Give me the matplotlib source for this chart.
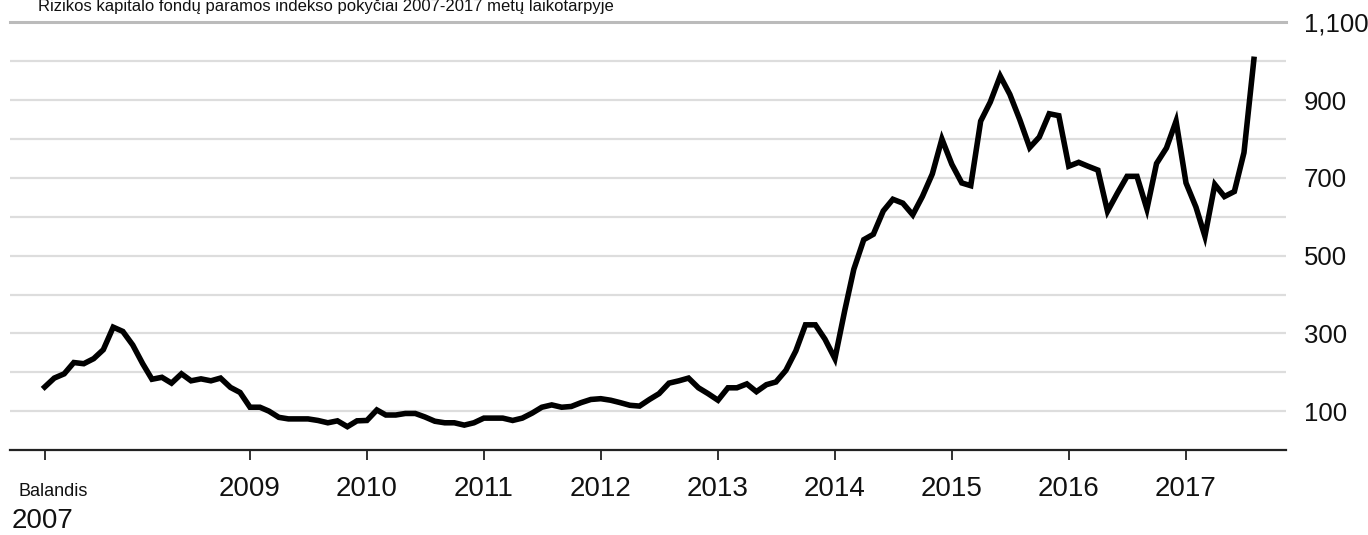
import numpy as np
import pandas as pd
import matplotlib
matplotlib.use("Agg")
import matplotlib.pyplot as plt
import matplotlib.dates as mdates

plt.rcParams['font.family'] = ['Liberation Sans', 'DejaVu Sans']

title = "Rizikos kapitalo fondų paramos indekso pokyčiai 2007-2017 metų laikotarpyje"

# monthly index values, April 2007 - August 2017
index_values = [
    162, 185, 196, 225, 222, 235, 258, 316, 305, 270, 222, 182,
    187, 172, 196, 178, 183, 178, 185, 161, 148, 110, 110, 100,
    84, 80, 80, 80, 76, 70, 75, 60, 75, 76, 103, 90,
    90, 94, 94, 85, 74, 70, 70, 64, 70, 82, 82, 82,
    76, 82, 95, 110, 116, 110, 112, 122, 130, 132, 128, 122,
    115, 113, 130, 145, 172, 178, 185, 160, 145, 128, 160, 160,
    170, 150, 168, 175, 205, 255, 322, 322, 285, 235, 360, 465,
    541, 555, 615, 645, 635, 605, 652, 710, 800, 735, 687, 680,
    846, 895, 962, 915, 850, 778, 805, 865, 860, 730, 740, 730,
    720, 614, 661, 704, 704, 620, 737, 777, 846, 687, 625, 550,
    683, 652, 665, 765, 1005,
]
months = pd.date_range("2007-04-01", periods=len(index_values), freq="MS")

year_ticks = [str(y) for y in range(2009, 2018)]
y_labels = [100, 300, 500, 700, 900, 1100]

W, H = 1368, 535
fig = plt.figure(figsize=(W / 100, H / 100), dpi=100)
ax = fig.add_axes([10 / W, (H - 450) / H, 1276 / W, (450 - 22.4) / H])

ax.plot(months, index_values, color="black", lw=4, solid_joinstyle="miter",
        zorder=3)

# x axis: first tick at the start month, then every January
tick_dates = [months[0]] + [pd.Timestamp(y + "-01-01") for y in year_ticks]
ax.set_xticks(tick_dates)
ax.set_xticklabels([""] + year_ticks)
jan09 = mdates.date2num(pd.Timestamp("2009-01-01"))
px_per_day = 117 / 365.25
ax.set_xlim(jan09 - 240 / px_per_day, jan09 + 1036 / px_per_day)
ax.tick_params(axis="x", length=7.5, width=1.3, color="#222222",
               labelsize=20, pad=11, labelcolor="#111111")

# y axis on the right
ax.set_ylim(0, 1100)
ax.yaxis.tick_right()
ax.set_yticks(y_labels)
ax.set_yticklabels([f"{v:,}" for v in y_labels])
ax.set_yticks(np.arange(100, 1100, 100), minor=True)
ax.tick_params(axis="y", which="both", length=0, labelsize=18.5, pad=13,
               labelcolor="#111111")
ax.grid(axis="y", which="both", color="#dddddd", lw=1.6)
ax.grid(axis="x", visible=False)

for s in ["left", "right"]:
    ax.spines[s].set_visible(False)
ax.spines["top"].set_color("#bbbbbb")
ax.spines["top"].set_linewidth(2.2)
ax.spines["bottom"].set_color("#222222")
ax.spines["bottom"].set_linewidth(1.6)

fig.text(18 / W, 1 - 492 / H, "Balandis", fontsize=13, va="center",
         ha="left", color="#111111")
fig.text(12 / W, 1 - 521 / H, "2007", fontsize=20, va="center",
         ha="left", color="#111111")
fig.text(38 / W, 1 - 11 / H, title, fontsize=12, va="baseline",
         ha="left", color="#111111")

fig.savefig("out.png", dpi=100, facecolor="white")
